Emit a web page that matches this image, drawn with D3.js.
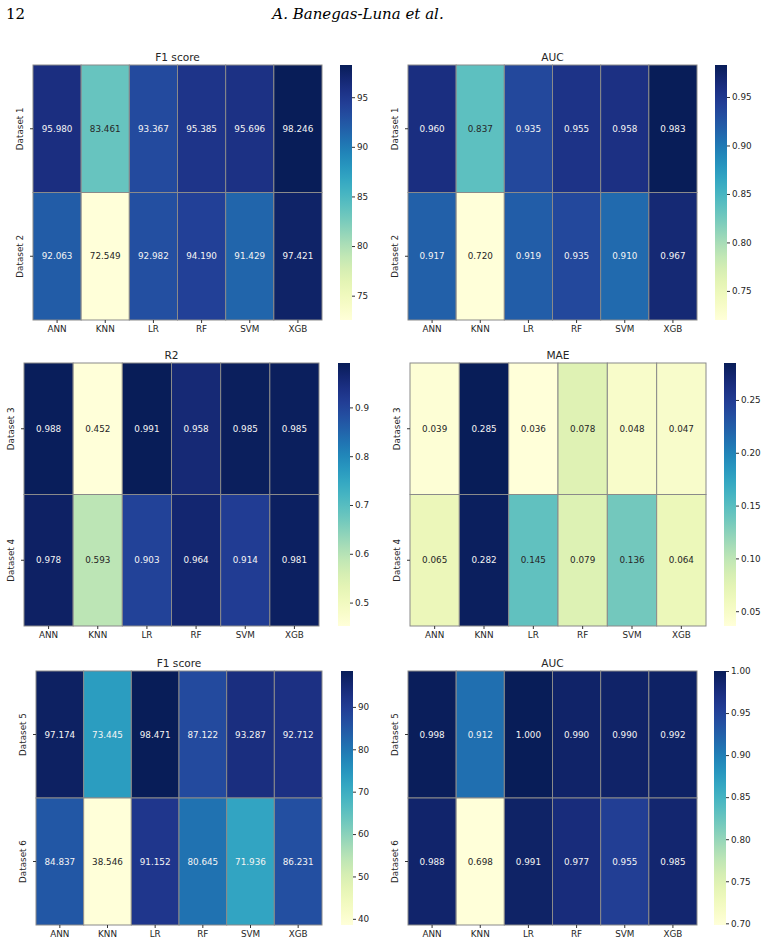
<!DOCTYPE html>
<html>
<head>
<meta charset="utf-8">
<script src="https://cdn.jsdelivr.net/npm/d3@7"></script>
<style>
  body { margin: 0; background: #fff; }
  svg text { font-family: "DejaVu Sans", sans-serif; }
</style>
</head>
<body>
<svg id="page" width="770" height="946"></svg>
<script>
// Data
const models = ['ANN', 'KNN', 'LR', 'RF', 'SVM', 'XGB'];

const datasetsA = ['Dataset 1', 'Dataset 2'];
const datasetsB = ['Dataset 3', 'Dataset 4'];
const datasetsC = ['Dataset 5', 'Dataset 6'];

const f1ScoreA = [
  [95.980, 83.461, 93.367, 95.385, 95.696, 98.246],
  [92.063, 72.549, 92.982, 94.190, 91.429, 97.421],
];
const aucA = [
  [0.960, 0.837, 0.935, 0.955, 0.958, 0.983],
  [0.917, 0.720, 0.919, 0.935, 0.910, 0.967],
];
const r2B = [
  [0.988, 0.452, 0.991, 0.958, 0.985, 0.985],
  [0.978, 0.593, 0.903, 0.964, 0.914, 0.981],
];
const maeB = [
  [0.039, 0.285, 0.036, 0.078, 0.048, 0.047],
  [0.065, 0.282, 0.145, 0.079, 0.136, 0.064],
];
const f1ScoreC = [
  [97.174, 73.445, 98.471, 87.122, 93.287, 92.712],
  [84.837, 38.546, 91.152, 80.645, 71.936, 86.231],
];
const aucC = [
  [0.998, 0.912, 1.000, 0.990, 0.990, 0.992],
  [0.988, 0.698, 0.991, 0.977, 0.955, 0.985],
];

const ticksF1A = [75, 80, 85, 90, 95];
const ticksAucA = [0.75, 0.80, 0.85, 0.90, 0.95];
const ticksR2 = [0.5, 0.6, 0.7, 0.8, 0.9];
const ticksMae = [0.05, 0.10, 0.15, 0.20, 0.25];
const ticksF1C = [40, 50, 60, 70, 80, 90];
const ticksAucC = [0.70, 0.75, 0.80, 0.85, 0.90, 0.95, 1.00];

const svg = d3.select('#page');

// page header
svg.append('text')
  .attr('x', 6).attr('y', 19)
  .style('font-family', '"DejaVu Serif", serif')
  .style('font-size', '15px')
  .text('12');
svg.append('text')
  .attr('x', 358).attr('y', 19)
  .attr('text-anchor', 'middle')
  .style('font-family', '"DejaVu Serif", serif')
  .style('font-style', 'italic')
  .style('font-size', '15px')
  .text('A. Banegas-Luna et al.');

// seaborn-like text colour choice from relative luminance
function textColor(fill) {
  const c = d3.rgb(fill);
  const lin = (v) => {
    v /= 255;
    return v <= 0.03928 ? v / 12.92 : Math.pow((v + 0.055) / 1.055, 2.4);
  };
  const lum = 0.2126 * lin(c.r) + 0.7152 * lin(c.g) + 0.0722 * lin(c.b);
  return lum > 0.408 ? '#262626' : '#f4f4f4';
}

function fmtTick(ticks) {
  const step = ticks[1] - ticks[0];
  if (step >= 1) return d3.format('d');
  if (Math.abs(step - 0.1) < 1e-9) return d3.format('.1f');
  return d3.format('.2f');
}

let gradId = 0;

function drawHeatmap(cfg) {
  const g = svg.append('g');
  const flat = cfg.values.flat();
  const color = d3.scaleSequential(d3.interpolateYlGnBu)
    .domain([d3.min(flat), d3.max(flat)]);

  const x = d3.scaleBand().domain(models).range([cfg.x0, cfg.x1]);
  const y = d3.scaleBand().domain(cfg.rows).range([cfg.y0, cfg.y1]);

  const cells = [];
  cfg.values.forEach((row, i) => row.forEach((v, j) => {
    cells.push({ row: cfg.rows[i], col: models[j], v });
  }));

  g.selectAll('rect.cell')
    .data(cells)
    .join('rect')
    .attr('class', 'cell')
    .attr('x', (d) => x(d.col))
    .attr('y', (d) => y(d.row))
    .attr('width', x.bandwidth())
    .attr('height', y.bandwidth())
    .attr('fill', (d) => color(d.v))
    .attr('stroke', '#8a8a8a')
    .attr('stroke-width', 1);

  g.selectAll('text.annot')
    .data(cells)
    .join('text')
    .attr('class', 'annot')
    .attr('x', (d) => x(d.col) + x.bandwidth() / 2)
    .attr('y', (d) => y(d.row) + y.bandwidth() / 2)
    .attr('text-anchor', 'middle')
    .attr('dominant-baseline', 'central')
    .style('font-size', '8.8px')
    .attr('fill', (d) => textColor(color(d.v)))
    .text((d) => d.v.toFixed(3));

  // axes
  const xAxis = d3.axisBottom(x).tickSize(3).tickPadding(3);
  const xg = g.append('g')
    .attr('transform', `translate(0,${cfg.y1})`)
    .call(xAxis);
  xg.select('.domain').remove();
  xg.selectAll('text').style('font-size', '8.8px').attr('fill', '#262626')
    .style('font-family', '"DejaVu Sans", sans-serif');
  xg.selectAll('line').attr('stroke', '#333');

  const yAxis = d3.axisLeft(y).tickSize(3).tickPadding(3);
  const yg = g.append('g')
    .attr('transform', `translate(${cfg.x0},0)`)
    .call(yAxis);
  yg.select('.domain').remove();
  yg.selectAll('text')
    .style('font-size', '8.8px')
    .attr('fill', '#262626')
    .style('font-family', '"DejaVu Sans", sans-serif')
    .attr('x', 0).attr('dy', 0)
    .attr('text-anchor', 'middle')
    .attr('transform', 'translate(-10,0) rotate(-90)');
  yg.selectAll('line').attr('stroke', '#333');

  // title
  g.append('text')
    .attr('x', (cfg.x0 + cfg.x1) / 2)
    .attr('y', cfg.y0 - 4)
    .attr('text-anchor', 'middle')
    .style('font-size', '10.6px')
    .attr('fill', '#262626')
    .text(cfg.title);

  // colorbar
  const id = `grad${gradId++}`;
  const grad = svg.append('defs').append('linearGradient')
    .attr('id', id)
    .attr('x1', 0).attr('y1', 1).attr('x2', 0).attr('y2', 0);
  d3.range(0, 1.0001, 0.05).forEach((t) => {
    grad.append('stop')
      .attr('offset', t)
      .attr('stop-color', d3.interpolateYlGnBu(t));
  });
  g.append('rect')
    .attr('x', cfg.cbx)
    .attr('y', cfg.y0)
    .attr('width', 12)
    .attr('height', cfg.y1 - cfg.y0)
    .attr('fill', `url(#${id})`);

  const cbScale = d3.scaleLinear()
    .domain(color.domain())
    .range([cfg.y1, cfg.y0]);
  const cg = g.append('g')
    .attr('transform', `translate(${cfg.cbx + 12},0)`)
    .call(d3.axisRight(cbScale)
      .tickValues(cfg.ticks)
      .tickSize(3)
      .tickPadding(2)
      .tickFormat(fmtTick(cfg.ticks)));
  cg.select('.domain').remove();
  cg.selectAll('text').style('font-size', '8.8px').attr('fill', '#262626')
    .style('font-family', '"DejaVu Sans", sans-serif');
  cg.selectAll('line').attr('stroke', '#333');
}

drawHeatmap({ title: 'F1 score', rows: datasetsA, values: f1ScoreA, ticks: ticksF1A,
  x0: 33, x1: 322, y0: 65, y1: 320, cbx: 340 });
drawHeatmap({ title: 'AUC', rows: datasetsA, values: aucA, ticks: ticksAucA,
  x0: 408, x1: 697, y0: 65, y1: 320, cbx: 715 });
drawHeatmap({ title: 'R2', rows: datasetsB, values: r2B, ticks: ticksR2,
  x0: 24, x1: 319, y0: 363, y1: 626, cbx: 338 });
drawHeatmap({ title: 'MAE', rows: datasetsB, values: maeB, ticks: ticksMae,
  x0: 410, x1: 706, y0: 363, y1: 626, cbx: 724 });
drawHeatmap({ title: 'F1 score', rows: datasetsC, values: f1ScoreC, ticks: ticksF1C,
  x0: 36, x1: 322, y0: 671, y1: 925, cbx: 341 });
drawHeatmap({ title: 'AUC', rows: datasetsC, values: aucC, ticks: ticksAucC,
  x0: 408, x1: 697, y0: 671, y1: 925, cbx: 714 });
</script>
</body>
</html>
